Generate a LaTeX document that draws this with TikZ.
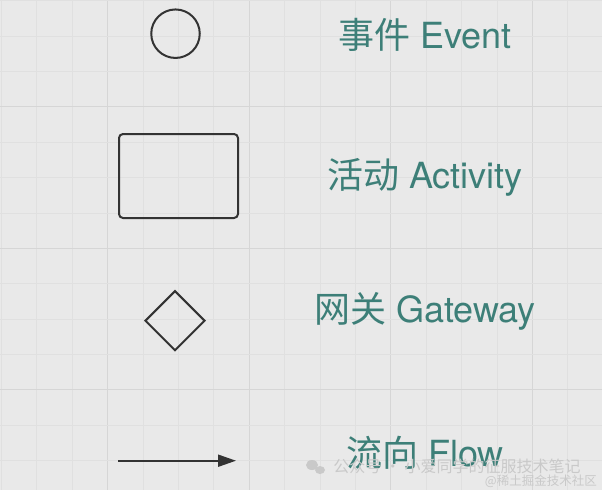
\documentclass[tikz,border=0pt]{standalone}
\usepackage{fontspec}
\setmainfont{TeX Gyre Heros}
\newfontfamily\cjk{Noto Sans CJK SC}
\usetikzlibrary{shapes.geometric,arrows.meta}
\definecolor{bg}{HTML}{E9E9E9}
\definecolor{gridminor}{HTML}{E0E0E0}
\definecolor{gridmajor}{HTML}{D6D6D6}
\definecolor{labelteal}{HTML}{3D7F78}
\definecolor{symline}{HTML}{333333}
\definecolor{wm}{HTML}{C9C9C9}
\tikzset{
  sym/.style={draw=symline, line width=2pt, inner sep=0pt, fill=none},
  lbl/.style={text=labelteal, font=\fontsize{36}{42}\selectfont, inner sep=0pt, anchor=center},
  wmark/.style={text=wm, inner sep=0pt},
}
\begin{document}
\begin{tikzpicture}[x=1pt,y=-1pt]
\useasboundingbox (0,0) rectangle (602,490);
\fill[bg] (0,0) rectangle (602,490);
% grid
\foreach \i in {0,...,17} {
  \pgfmathsetmacro{\xx}{1.4+35.4*\i}
  \pgfmathtruncatemacro{\m}{mod(\i,4)}
  \ifnum\m=3
    \draw[gridmajor, line width=0.9pt] (\xx,0) -- (\xx,490);
  \else
    \draw[gridminor, line width=0.8pt] (\xx,0) -- (\xx,490);
  \fi
}
\foreach \i in {0,...,14} {
  \pgfmathsetmacro{\yy}{0.5+35.4*\i}
  \pgfmathtruncatemacro{\m}{mod(\i,4)}
  \ifnum\m=3
    \draw[gridmajor, line width=0.9pt] (0,\yy) -- (602,\yy);
  \else
    \draw[gridminor, line width=0.8pt] (0,\yy) -- (602,\yy);
  \fi
}
% symbols
\node[sym, circle, minimum size=48.5pt] (event) at (175.5,33.7) {};
\node[sym, rectangle, rounded corners=4pt, minimum width=119pt, minimum height=84pt] (activity) at (178.5,176) {};
\node[sym, diamond, aspect=1, minimum width=60pt, minimum height=60pt] (gateway) at (175,320.7) {};
\coordinate (flowA) at (118,460.7);
\coordinate (flowB) at (236,460.7);
\draw[symline, line width=2pt, -{Triangle[length=18pt,width=12pt]}] (flowA) -- (flowB);
% labels
\node[lbl] (tEvent) at (425,35) {{\cjk 事件} Event};
\node[lbl] (tActivity) at (425,177) {{\cjk 活动} Activity};
\node[lbl] (tGateway) at (425,311) {{\cjk 网关} Gateway};
\node[lbl] (tFlow) at (425,453) {{\cjk 流向} Flow};
% watermark
\fill[wm] (312,465) ellipse (6pt and 5pt);
\fill[wm] (320,470) ellipse (5pt and 4pt);
\node[wmark, font=\cjk\fontsize{16}{18}\selectfont] (wm1) at (457,466) {公众号 · 小爱同学的征服技术笔记};
\node[wmark, font=\cjk\fontsize{12.5}{14}\selectfont, anchor=east] (wm2) at (597,481) {@稀土掘金技术社区};
\end{tikzpicture}
\end{document}
